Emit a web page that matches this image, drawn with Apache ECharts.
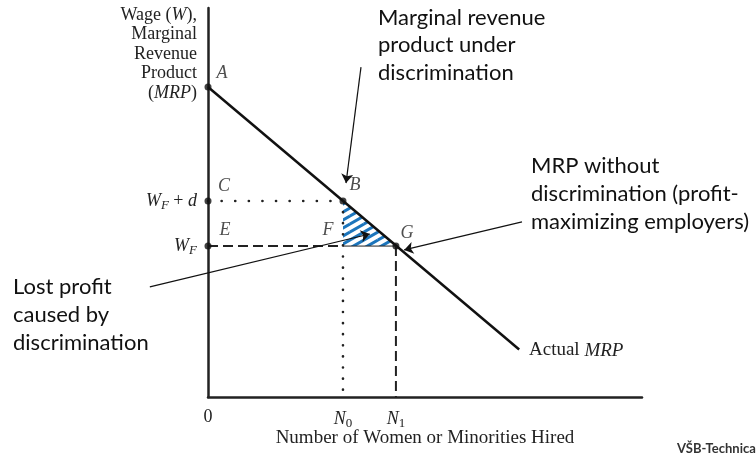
<!DOCTYPE html>
<html>
<head>
<meta charset="utf-8">
<script src="https://cdn.jsdelivr.net/npm/echarts@6/dist/echarts.min.js"></script>
<style>
  html, body { margin: 0; padding: 0; background: #fff; }
  #chart { width: 756px; height: 455px; }
</style>
</head>
<body>
<div id="chart"></div>
<script>
// diagram values (axis units 0..100)
const mrpLine = [[0, 79.7], [71.7, 12.2]];
const hireLevels = [31.1, 43.3];      // N0, N1
const wageLevels = [38.8, 50.4];      // W_F, W_F + d
const pointNames = ['A', 'B', 'C', 'E', 'F', 'G'];
const pointXY = [[0, 79.7], [31.1, 50.4], [0, 50.4], [0, 38.8], [31.1, 38.8], [43.3, 38.8]];
const xTickLabels = ['0', '{i|N}{u|0}', '{i|N}{u|1}'];
const yTickLabels = ['{i|W}{s|F}', '{i|W}{s|F}{n| + }{i|d}'];
const yTitleLines = ['Wage ({i|W}),', 'Marginal', 'Revenue', 'Product', '({i|MRP})'];
const arrowLines = [
  [[35.25, 84.8], [31.8, 55.0]],
  [[72.35, 45.0], [45.2, 37.8]],
  [[-13.4, 28.3], [37.3, 41.9]]
];

const N0 = hireLevels[0], N1 = hireLevels[1];
const WF = wageLevels[0], WFd = wageLevels[1];
const serif = 'Liberation Serif';
const sans = 'Lato';
const ink = '#222';

// offsets of the point letters
const letterOffset = {A: [14, -14], B: [12, -16], C: [16, -15], E: [17, -16], F: [-15, -16], G: [11, -13]};

// blue stripes, about 30 degrees
function hatch() {
  const c = document.createElement('canvas');
  c.width = 14; c.height = 8;
  const g = c.getContext('2d');
  g.strokeStyle = '#1c75bc';
  g.lineWidth = 3;
  g.beginPath();
  for (let k = -1; k <= 1; k++) {
    g.moveTo(k * 14, 8 + 0); g.lineTo(k * 14 + 14, 0);
    g.moveTo(k * 14, 16); g.lineTo(k * 14 + 14, 8);
    g.moveTo(k * 14, 0); g.lineTo(k * 14 + 14, -8);
  }
  g.stroke();
  return c;
}

const richSerif = {
  i: {fontFamily: serif, fontStyle: 'italic', fontSize: 18, color: ink},
  s: {fontFamily: serif, fontStyle: 'italic', fontSize: 13, color: ink, padding: [9, 0, 0, 0]},
  u: {fontFamily: serif, fontSize: 13, color: ink, padding: [9, 0, 0, 0]},
  n: {fontFamily: serif, fontSize: 18, color: ink}
};

const myChart = echarts.init(document.getElementById('chart'));

const option = {
  animation: false,
  grid: {left: 208, top: 8, width: 434, height: 389},
  xAxis: {
    type: 'value', min: 0, max: 100,
    splitLine: {show: false},
    axisTick: {show: false},
    axisLine: {lineStyle: {color: ink, width: 2.5}},
    axisLabel: {
      customValues: [0, N0, N1],
      margin: 11,
      fontFamily: serif, fontSize: 18, color: ink,
      formatter: function (v) {
        if (v === 0) return xTickLabels[0];
        return v === N0 ? xTickLabels[1] : xTickLabels[2];
      },
      rich: richSerif
    }
  },
  yAxis: {
    type: 'value', min: 0, max: 100,
    splitLine: {show: false},
    axisTick: {show: false},
    axisLine: {lineStyle: {color: ink, width: 2.5}},
    axisLabel: {
      customValues: [WF, WFd],
      margin: 11,
      formatter: function (v) { return v === WF ? yTickLabels[0] : yTickLabels[1]; },
      rich: richSerif
    }
  },
  series: [
    {
      type: 'custom',
      renderItem: function (params, api) {
        const p1 = api.coord([N0, WFd]), p2 = api.coord([N0, WF]), p3 = api.coord([N1, WF]);
        return {
          type: 'polygon',
          shape: {points: [p1, p2, p3]},
          style: {fill: {image: hatch(), repeat: 'repeat'}, stroke: null}
        };
      },
      data: [[N0, WF]],
      z: 1
    },
    {
      type: 'line', data: mrpLine, symbol: 'none',
      lineStyle: {color: '#111', width: 2.5}, z: 3
    },
    {
      type: 'line', data: [[0, WFd], [N0, WFd]], symbol: 'none',
      lineStyle: {color: ink, width: 2.6, type: [0.1, 13.5], cap: 'round'}
    },
    {
      type: 'line', data: [[N0, WFd], [N0, 0]], symbol: 'none',
      lineStyle: {color: ink, width: 2.6, type: [0.1, 11], cap: 'round'}
    },
    {
      type: 'line', data: [[0, WF], [N0, WF]], symbol: 'none',
      lineStyle: {color: ink, width: 2, type: [10, 5]}
    },
    {
      type: 'line', data: [[N1, WF], [N1, 0]], symbol: 'none',
      lineStyle: {color: ink, width: 2, type: [10, 5]}
    },
    {
      type: 'line', data: [[N0, WF], [N1, WF]], symbol: 'none',
      lineStyle: {color: ink, width: 1}
    },
    {
      type: 'scatter',
      data: pointNames.map(function (n, i) {
        return {
          name: n, value: pointXY[i],
          symbolSize: n === 'F' ? 0 : 7,
          label: {offset: letterOffset[n]}
        };
      }),
      itemStyle: {color: '#111'},
      label: {
        show: true, position: 'inside',
        formatter: '{b}',
        fontFamily: serif, fontStyle: 'italic', fontSize: 18, color: ink
      },
      z: 5
    },
    {
      type: 'lines',
      coordinateSystem: 'cartesian2d',
      clip: false,
      symbol: ['none', 'arrow'],
      symbolSize: 9,
      lineStyle: {color: '#111', width: 1.2, opacity: 1},
      data: arrowLines.map(function (c) { return {coords: c}; }),
      z: 6
    }
  ],
  graphic: yTitleLines.map(function (t, i) {
    return {
      type: 'text', x: 197, y: 15 + i * 19.5,
      style: {
        text: t, align: 'right', verticalAlign: 'middle',
        fontFamily: serif, fontSize: 18, fill: ink,
        rich: {i: {fontFamily: serif, fontStyle: 'italic', fontSize: 18}}
      }
    };
  }).concat([
    {
      type: 'text', left: 529, top: 341,
      style: {
        text: 'Actual {i|MRP}',
        fontFamily: serif, fontSize: 19, fill: ink,
        rich: {i: {fontFamily: serif, fontStyle: 'italic', fontSize: 19}}
      }
    },
    {
      type: 'text', x: 425, y: 438,
      style: {
        text: 'Number of Women or Minorities Hired', align: 'center', verticalAlign: 'middle',
        fontFamily: serif, fontSize: 19, fill: ink
      }
    },
    {
      type: 'text', left: 378, top: 4,
      style: {
        text: 'Marginal revenue\nproduct under\ndiscrimination',
        fontFamily: sans, fontSize: 22, lineHeight: 27.5, fill: '#111'
      }
    },
    {
      type: 'text', left: 531, top: 152,
      style: {
        text: 'MRP without\ndiscrimination (profit-\nmaximizing employers)',
        fontFamily: sans, fontSize: 22, lineHeight: 28, fill: '#111'
      }
    },
    {
      type: 'text', left: 13, top: 273,
      style: {
        text: 'Lost profit\ncaused by\ndiscrimination',
        fontFamily: sans, fontSize: 22, lineHeight: 28, fill: '#111'
      }
    },
    {
      type: 'text', left: 677, top: 442,
      style: {
        text: 'VŠB-Technical University of Ostrava',
        fontFamily: sans, fontWeight: 'bold', fontSize: 13, fill: '#333'
      }
    }
  ])
};

myChart.setOption(option);
</script>
</body>
</html>
